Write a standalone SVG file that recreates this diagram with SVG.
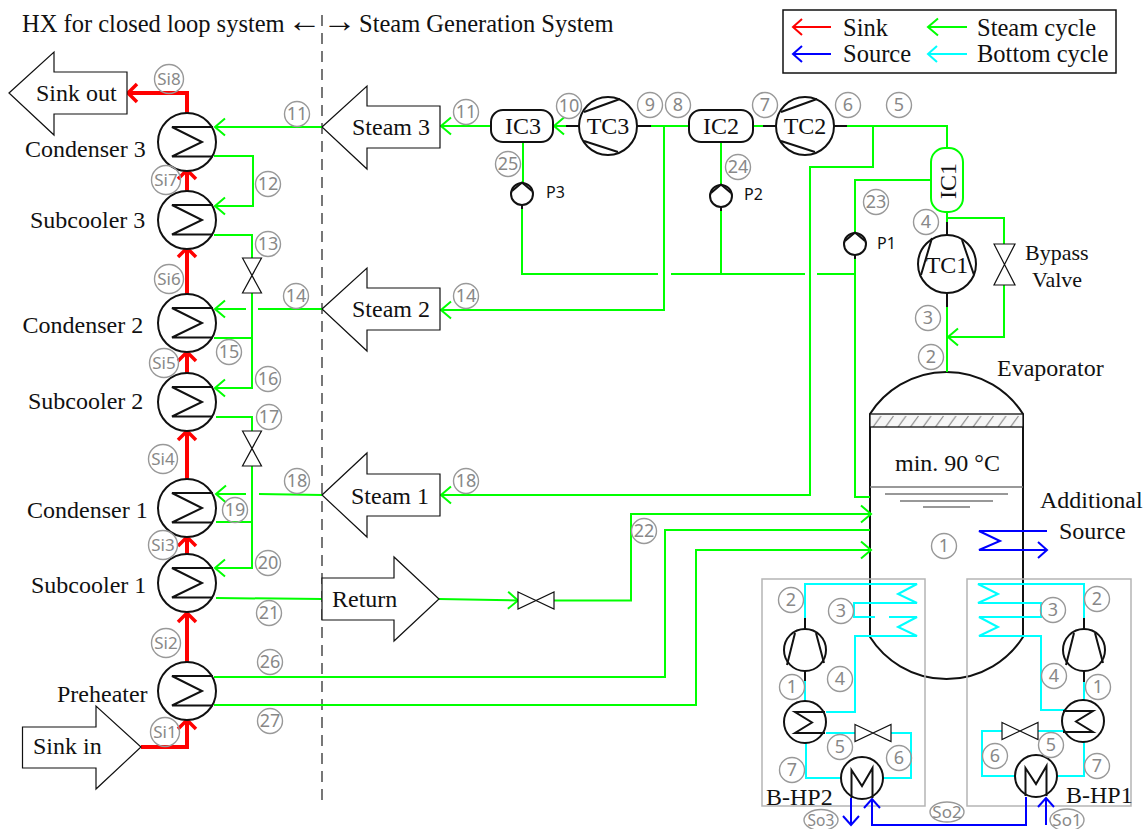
<svg xmlns="http://www.w3.org/2000/svg" xmlns:xlink="http://www.w3.org/1999/xlink" width="1146" height="829" viewBox="0 0 1146 829">
<style>
text{font-family:"Liberation Serif","Times New Roman",serif;font-size:24px;fill:#111}
.p{font-family:"Noto Sans","Open Sans",sans-serif;font-size:16px}
.mid{text-anchor:middle}
.n circle,.n ellipse{fill:none;stroke:#999;stroke-width:1.4}
.n text{font-family:"Noto Sans","Open Sans",sans-serif;font-size:18px;fill:#888;text-anchor:middle}
.n .s{font-size:17px}
.g,.r,.b,.c,.k{fill:none;stroke-linejoin:miter}
.g{stroke:#00ff00;stroke-width:2}
.r{stroke:#ff0000;stroke-width:4}
.b{stroke:#0000ff;stroke-width:2}
.c{stroke:#00ffff;stroke-width:2}
.k{stroke:#111;stroke-width:2}
.ar{marker-end:url(#ag)}
.box{fill:#fff;stroke:#111;stroke-width:1.2}
.eq{fill:#fff;stroke:#111;stroke-width:2}
.hp{fill:none;stroke:#b5b5b5;stroke-width:1.5}
.lg{font-size:24.5px}
</style>
<defs>
<marker id="ag" markerUnits="userSpaceOnUse" viewBox="0 0 24 24" markerWidth="24" markerHeight="24" refX="14" refY="12" orient="auto" overflow="visible"><path d="M4,3.5 L14,12 L4,20.5" fill="none" stroke="#00ff00" stroke-width="2"/></marker>
<marker id="ar" markerUnits="userSpaceOnUse" viewBox="0 0 24 24" markerWidth="24" markerHeight="24" refX="14" refY="12" orient="auto" overflow="visible"><path d="M5,3 L14,12 L5,21" fill="none" stroke="#ff0000" stroke-width="3.5"/></marker>
<marker id="ab" markerUnits="userSpaceOnUse" viewBox="0 0 24 24" markerWidth="24" markerHeight="24" refX="14" refY="12" orient="auto" overflow="visible"><path d="M5,4 L14,12 L5,20" fill="none" stroke="#0000ff" stroke-width="2"/></marker>
<marker id="ar2" markerUnits="userSpaceOnUse" viewBox="0 0 24 24" markerWidth="24" markerHeight="24" refX="14" refY="12" orient="auto" overflow="visible"><path d="M5,4 L14,12 L5,20" fill="none" stroke="#ff0000" stroke-width="2"/></marker>
<marker id="ac" markerUnits="userSpaceOnUse" viewBox="0 0 24 24" markerWidth="24" markerHeight="24" refX="14" refY="12" orient="auto" overflow="visible"><path d="M5,4 L14,12 L5,20" fill="none" stroke="#00ffff" stroke-width="2"/></marker>
<pattern id="hatch" patternUnits="userSpaceOnUse" width="12.5" height="13" x="870" y="414"><rect width="12.5" height="13" fill="#f6f6f6"/><path d="M3,13 L11,2" stroke="#888" stroke-width="1.2"/></pattern>
<g id="hx"><circle r="29" class="eq"/><path d="M26,-15 H-15 L15,0 L-15,14.5 H26" class="k"/></g>
<g id="pump"><circle r="11" class="eq"/><path d="M-10,-3 L0,-11.5 L10,-3" class="k"/></g>
<g id="hxs"><circle r="21" class="eq"/><path d="M20,-10 H-10 L7,0.5 L-10,11 H20" class="k"/></g>
<g id="hxsr"><circle r="21" class="eq"/><path d="M-20,-10 H10 L-7,0.5 L10,11 H-20" class="k"/></g>
<g id="cmp"><circle r="21" class="eq"/><path d="M-10,-17 L-18,15 M11,-17 L19,13" class="k"/></g>
<g id="mh"><circle r="21" class="eq"/><path d="M-10.5,20 V-8 L0,8 L10.5,-10 V20" class="k"/></g>
<path id="vh" d="M0,-8.5 L36,8.5 V-8.5 L0,8.5 Z" class="box"/>
<path id="vv" d="M-9.5,0 L9.5,35 H-9.5 L9.5,0 Z" class="box"/>
</defs>

<g id="evaporator">
<path d="M870,414 A90.7,90.7 0 0 1 1023,414 V637 A90.7,90.7 0 0 1 870,637 Z" fill="#fff" stroke="#111" stroke-width="2"/>
<rect x="870" y="414" width="153" height="13" fill="url(#hatch)" stroke="#111" stroke-width="1.3"/>
<path d="M870,487 H1023" stroke="#777" stroke-width="1.5" fill="none"/>
<path d="M885,494 H1008 M900,501 H993 M923,507 H970" stroke="#777" stroke-width="1.5" fill="none"/>
<text x="997" y="376">Evaporator</text>
<text x="895" y="471">min. 90 °C</text>
</g>

<g id="bhp2-box"><rect x="762" y="579" width="163" height="227" class="hp"/><text x="766" y="805">B-HP2</text></g>
<g id="bhp1-box"><rect x="967" y="579" width="164" height="227" class="hp"/><text x="1066" y="803">B-HP1</text></g>

<g id="connectors">
<path d="M322,15 V803" fill="none" stroke="#555" stroke-width="1.6" stroke-dasharray="11,7"/>
<g class="r">
<path d="M141,747 H187 V720" marker-end="url(#ar)"/>
<path d="M187,663 V613" marker-end="url(#ar)"/>
<path d="M187,554 V537" marker-end="url(#ar)"/>
<path d="M187,479 V431" marker-end="url(#ar)"/>
<path d="M187,373 V352" marker-end="url(#ar)"/>
<path d="M187,294 V248" marker-end="url(#ar)"/>
<path d="M187,191 V170" marker-end="url(#ar)"/>
<path d="M187,113 V93 H128" marker-end="url(#ar)"/>
</g>
<g class="g">
<path class="ar" d="M322,127 H215"/>
<path class="ar" d="M214,156 H253 V206 H215"/>
<path d="M214,235 H252 V258"/>
<path class="ar" d="M252,293 V388 H215"/>
<path d="M214,338 H252"/>
<path class="ar" d="M246,309 H215"/>
<path d="M258,309 H322"/>
<path d="M216,417 H252 V431"/>
<path class="ar" d="M252,466 V568 H215"/>
<path d="M216,522 H252"/>
<path class="ar" d="M246,494 H216"/>
<path d="M259,494 L322,495"/>
<path d="M216,598 L322,599"/>
<path d="M214,677 H665 V530 H870"/>
<path class="ar" d="M214,705 H696 V550 H871"/>
<path class="ar" d="M439,599 L518,600.5"/>
<path class="ar" d="M554,600.5 H631 V514 H871"/>
<path d="M847,126 H947 V148"/>
<path class="ar" d="M873,126 V167 H810 V495 H441"/>
<path class="ar" d="M651,126 H664 V310 H441"/>
<path d="M664,126 H689"/>
<path d="M753,126 H763"/>
<path class="ar" d="M491,126 H441"/>
<path class="ar" d="M566,126 H554"/>
<path d="M523,142 V183"/>
<path d="M721,142 V185"/>
<path d="M522,209 V274 H658"/>
<path d="M671,274 H805"/>
<path d="M721,211 V274"/>
<path d="M817,274 H855"/>
<path d="M931,180 H855 V232"/>
<path d="M855,259 V497 H870"/>
<path d="M947,212 V222"/>
<path d="M947,218 H1004 V244"/>
<path class="ar" d="M1004,285 V337 H948"/>
<path d="M947,307 V372"/>
</g>
<g class="k">
<path d="M566,126 H580 M637,126 H651 M763,126 H777 M834,126 H847"/>
<path d="M947,222 V235 M947,293 V307"/>
<path d="M522,205 V209 M721,207 V211 M855,255 V259"/>
<path d="M805,618 V630 M805,670 V681 M1084,618 V630 M1084,670 V682"/>
</g>
<g class="c">
<path d="M805,618 V584 H917 L898,594 L917,603 H854 V617 H875"/>
<path d="M889,617 H917 L898,627 L917,636 H855 V712 H826"/>
<path d="M805,681 V702"/>
<path d="M826,733 H856 M891,733 H911 V778 H883"/>
<path d="M841,778 H806 V743"/>
<path d="M1084,618 V584 H978 L998,594 L978,603 H1041 V617 H979 L998,627 L979,636 H1041 V710 H1067"/>
<path d="M1084,682 V700"/>
<path d="M1065,731 H1038 M1002,731 H982 V776 H1015"/>
<path d="M1057,776 H1084 V742"/>
</g>
<g class="b">
<path d="M1047,531 H979 L1000,541 L979,550 H1047" marker-end="url(#ab)"/>
<path d="M851,798 V825" marker-end="url(#ab)"/>
<path d="M1026,797 V825 H872 V799" marker-end="url(#ab)"/>
<path d="M1046,825 V798" marker-end="url(#ab)"/>
</g>
</g>

<g id="sink-out"><polygon points="9,93 54,52 54,72 127,72 127,114 54,114 54,135" class="box"/><text x="36" y="101">Sink out</text></g>
<g id="sink-in"><polygon points="22.5,727 96,727 96,706 141,747 96,789 96,768 22.5,768" class="box"/><text x="33" y="754">Sink in</text></g>
<g id="steam-3"><polygon points="322,127 367,86 367,106 440,106 440,148 367,148 367,169" class="box"/><text x="352" y="135">Steam 3</text></g>
<g id="steam-2"><polygon points="322,309 367,268 367,288 440,288 440,330 367,330 367,351" class="box"/><text x="352" y="317">Steam 2</text></g>
<g id="steam-1"><polygon points="322,495 367,453 367,474 440,474 440,516 367,516 367,537" class="box"/><text x="351" y="504">Steam 1</text></g>
<g id="return"><polygon points="322,578 394,578 394,557 439,599 394,641 394,620 322,620" class="box"/><text x="332" y="607">Return</text></g>

<g id="condenser-3"><use href="#hx" x="187" y="142"/><text x="25" y="157">Condenser 3</text></g>
<g id="subcooler-3"><use href="#hx" x="187" y="220"/><text x="30" y="228">Subcooler 3</text></g>
<g id="condenser-2"><use href="#hx" x="187" y="323"/><text x="22.5" y="333">Condenser 2</text></g>
<g id="subcooler-2"><use href="#hx" x="187" y="402"/><text x="28" y="409">Subcooler 2</text></g>
<g id="condenser-1"><use href="#hx" x="187" y="508"/><text x="27" y="518">Condenser 1</text></g>
<g id="subcooler-1"><use href="#hx" x="187" y="583"/><text x="31" y="593">Subcooler 1</text></g>
<g id="preheater"><use href="#hx" x="187" y="691"/><text x="57" y="702">Preheater</text></g>

<g id="valve-hx-1"><use href="#vv" x="252" y="258"/></g>
<g id="valve-hx-2"><use href="#vv" x="252" y="431"/></g>
<g id="valve-return"><use href="#vh" x="518" y="600.5"/></g>
<g id="bypass-valve"><path d="M994,244 L1015,285 H994 L1015,244 Z" class="box"/><text x="1025" y="260" style="font-size:22px">Bypass</text><text x="1032" y="287" style="font-size:22px">Valve</text></g>

<g id="ic3"><rect x="491" y="110" width="62" height="32" rx="12" class="eq"/><text x="523" y="134" class="mid">IC3</text></g>
<g id="tc3"><circle cx="608" cy="126" r="29" class="eq"/><path d="M584,112 L620,99 M584,141 L618,152" class="k"/><text x="608" y="134" class="mid">TC3</text></g>
<g id="ic2"><rect x="689" y="110" width="64" height="32" rx="12" class="eq"/><text x="721" y="134" class="mid">IC2</text></g>
<g id="tc2"><circle cx="805" cy="126" r="29" class="eq"/><path d="M781,112 L817,99 M781,141 L815,152" class="k"/><text x="805" y="134" class="mid">TC2</text></g>
<g id="ic1"><rect x="931" y="148" width="32" height="64" rx="14" fill="#fff" stroke="#00ff00" stroke-width="2"/><text transform="translate(956,181) rotate(-90)" class="mid">IC1</text></g>
<g id="tc1"><circle cx="947" cy="264" r="29" class="eq"/><path d="M932,238 L921,275 M962,240 L974,275" class="k"/><text x="947" y="273" class="mid">TC1</text></g>
<g id="p3"><use href="#pump" x="522" y="194"/><text x="546" y="198" class="p">P3</text></g>
<g id="p2"><use href="#pump" x="721" y="196"/><text x="744" y="200" class="p">P2</text></g>
<g id="p1"><use href="#pump" x="855" y="244"/><text x="877" y="249" class="p">P1</text></g>

<g id="bhp2-compressor"><use href="#cmp" x="805" y="650"/></g>
<g id="bhp2-condenser"><use href="#hxs" x="805" y="722"/></g>
<g id="bhp2-evaporator"><use href="#mh" x="862" y="778"/></g>
<g id="bhp2-valve"><use href="#vh" x="855" y="733"/></g>
<g id="bhp1-compressor"><use href="#cmp" x="1084" y="650"/></g>
<g id="bhp1-condenser"><use href="#hxsr" x="1083" y="721"/></g>
<g id="bhp1-evaporator"><use href="#mh" x="1036" y="776"/></g>
<g id="bhp1-valve"><use href="#vh" x="1002" y="731"/></g>

<g id="additional-source"><text x="1040" y="508">Additional</text><text x="1059" y="539">Source</text></g>

<g id="titles">
<text x="22" y="32" class="lg">HX for closed loop system</text>
<text x="287.5" y="32" style="font-size:34px">←</text>
<text x="322.5" y="32" style="font-size:34px">→</text>
<text x="359" y="32" class="lg">Steam Generation System</text>
</g>

<g id="legend">
<rect x="783" y="10" width="333" height="63" fill="#fff" stroke="#111" stroke-width="1.5"/>
<path d="M831,27 H793" fill="none" stroke="#ff0000" stroke-width="2" marker-end="url(#ar2)"/>
<path d="M831,54 H793" class="b" marker-end="url(#ab)"/>
<path d="M967,27 H928" class="g" marker-end="url(#ag)"/>
<path d="M967,54 H928" class="c" marker-end="url(#ac)"/>
<text x="843" y="36" class="lg">Sink</text>
<text x="843" y="62" class="lg">Source</text>
<text x="977" y="36" class="lg">Steam cycle</text>
<text x="977" y="62" class="lg">Bottom cycle</text>
</g>

<g id="stream-labels" class="n">
<g><circle cx="169" cy="79" r="14.5"/><text x="169" y="85" class="s">Si8</text></g>
<g><circle cx="166" cy="180" r="14.5"/><text x="166" y="186" class="s">Si7</text></g>
<g><circle cx="169" cy="279" r="14.5"/><text x="169" y="285" class="s">Si6</text></g>
<g><circle cx="164" cy="363" r="14.5"/><text x="164" y="369" class="s">Si5</text></g>
<g><circle cx="163" cy="459" r="14.5"/><text x="163" y="465" class="s">Si4</text></g>
<g><circle cx="163" cy="545" r="14.5"/><text x="163" y="551" class="s">Si3</text></g>
<g><circle cx="166" cy="643" r="14.5"/><text x="166" y="649" class="s">Si2</text></g>
<g><circle cx="165" cy="732" r="14.5"/><text x="165" y="738" class="s">Si1</text></g>
<g><circle cx="297" cy="114" r="12.5"/><text x="297" y="120">11</text></g>
<g><circle cx="268" cy="184" r="12.5"/><text x="268" y="190">12</text></g>
<g><circle cx="268" cy="244" r="12.5"/><text x="268" y="250">13</text></g>
<g><circle cx="296" cy="296" r="12.5"/><text x="296" y="302">14</text></g>
<g><circle cx="229" cy="352" r="12.5"/><text x="229" y="358">15</text></g>
<g><circle cx="268" cy="379" r="12.5"/><text x="268" y="385">16</text></g>
<g><circle cx="269" cy="417" r="12.5"/><text x="269" y="423">17</text></g>
<g><circle cx="297" cy="481" r="12.5"/><text x="297" y="487">18</text></g>
<g><circle cx="235" cy="510" r="12.5"/><text x="235" y="516">19</text></g>
<g><circle cx="268" cy="563" r="12.5"/><text x="268" y="569">20</text></g>
<g><circle cx="269" cy="613" r="12.5"/><text x="269" y="619">21</text></g>
<g><circle cx="270" cy="662" r="12.5"/><text x="270" y="668">26</text></g>
<g><circle cx="270" cy="721" r="12.5"/><text x="270" y="727">27</text></g>
<g><circle cx="466" cy="112" r="12.5"/><text x="466" y="118">11</text></g>
<g><circle cx="569" cy="106" r="12.5"/><text x="569" y="112">10</text></g>
<g><circle cx="650" cy="105" r="12.5"/><text x="650" y="111">9</text></g>
<g><circle cx="678" cy="105" r="12.5"/><text x="678" y="111">8</text></g>
<g><circle cx="765" cy="105" r="12.5"/><text x="765" y="111">7</text></g>
<g><circle cx="848" cy="105" r="12.5"/><text x="848" y="111">6</text></g>
<g><circle cx="899" cy="105" r="12.5"/><text x="899" y="111">5</text></g>
<g><circle cx="508" cy="164" r="12.5"/><text x="508" y="170">25</text></g>
<g><circle cx="738" cy="167" r="12.5"/><text x="738" y="173">24</text></g>
<g><circle cx="466" cy="296" r="12.5"/><text x="466" y="302">14</text></g>
<g><circle cx="466" cy="481" r="12.5"/><text x="466" y="487">18</text></g>
<g><circle cx="644" cy="531" r="12.5"/><text x="644" y="537">22</text></g>
<g><circle cx="876" cy="202" r="12.5"/><text x="876" y="208">23</text></g>
<g><circle cx="926" cy="222" r="12.5"/><text x="926" y="228">4</text></g>
<g><circle cx="928" cy="318" r="12.5"/><text x="928" y="324">3</text></g>
<g><circle cx="931" cy="357" r="12.5"/><text x="931" y="363">2</text></g>
<g><circle cx="944" cy="546" r="12.5"/><text x="944" y="552">1</text></g>
<g><circle cx="791" cy="600" r="12.5"/><text x="791" y="606">2</text></g>
<g><circle cx="841" cy="611" r="12.5"/><text x="841" y="617">3</text></g>
<g><circle cx="792" cy="687" r="12.5"/><text x="792" y="693">1</text></g>
<g><circle cx="840" cy="679" r="12.5"/><text x="840" y="685">4</text></g>
<g><circle cx="840" cy="747" r="12.5"/><text x="840" y="753">5</text></g>
<g><circle cx="899" cy="758" r="12.5"/><text x="899" y="764">6</text></g>
<g><circle cx="792" cy="770" r="12.5"/><text x="792" y="776">7</text></g>
<g><circle cx="1097" cy="599" r="12.5"/><text x="1097" y="605">2</text></g>
<g><circle cx="1053" cy="610" r="12.5"/><text x="1053" y="616">3</text></g>
<g><circle cx="1054" cy="676" r="12.5"/><text x="1054" y="682">4</text></g>
<g><circle cx="1098" cy="687" r="12.5"/><text x="1098" y="693">1</text></g>
<g><circle cx="1051" cy="745" r="12.5"/><text x="1051" y="751">5</text></g>
<g><circle cx="995" cy="756" r="12.5"/><text x="995" y="762">6</text></g>
<g><circle cx="1097" cy="766" r="12.5"/><text x="1097" y="772">7</text></g>
<g><ellipse cx="821" cy="820" rx="17" ry="10.5"/><text x="821" y="826" class="s" style="font-size:15.5px">So3</text></g>
<g><ellipse cx="947" cy="812" rx="17" ry="10"/><text x="947" y="818" class="s">So2</text></g>
<g><ellipse cx="1067" cy="820" rx="17" ry="11"/><text x="1067" y="826" class="s">So1</text></g>
</g>
</svg>
